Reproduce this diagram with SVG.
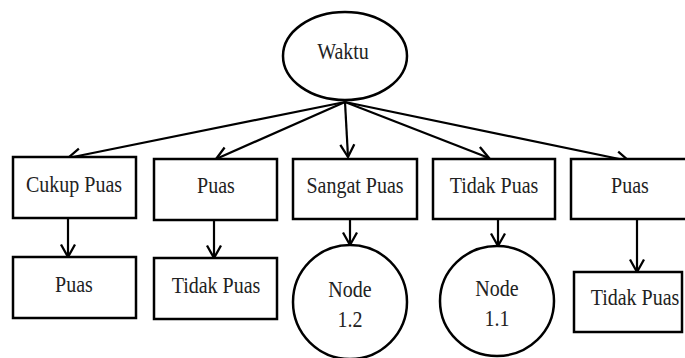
<svg xmlns="http://www.w3.org/2000/svg" width="685" height="358" viewBox="0 0 685 358">
<style>
.n{fill:#fff;stroke:#000;stroke-width:2.5}
text{font-family:'Liberation Serif','Times New Roman',serif;font-size:20px;fill:#222;text-anchor:middle}
.c line{stroke:#000;stroke-width:2.2;marker-end:url(#ah)}
</style>
<defs>
<marker id="ah" markerUnits="userSpaceOnUse" markerWidth="18" markerHeight="18" refX="14" refY="8" orient="auto" viewBox="0 0 18 16">
<path d="M1.5,1 L14,8 L1.5,15" fill="none" stroke="#000" stroke-width="2.3"/>
</marker>
</defs>
<rect width="685" height="358" fill="#fff"/>
<g id="connectors" class="c">
<line x1="345" y1="102" x2="68" y2="158"/>
<line x1="345" y1="102" x2="216" y2="159"/>
<line x1="345" y1="102" x2="348" y2="157"/>
<line x1="345" y1="102" x2="489" y2="158"/>
<line x1="345" y1="102" x2="629" y2="161"/>
<line x1="68" y1="219" x2="68" y2="257"/>
<line x1="214" y1="220" x2="214" y2="258"/>
<line x1="350" y1="219" x2="350" y2="245"/>
<line x1="498" y1="219" x2="498" y2="246"/>
<line x1="637" y1="219" x2="637" y2="272"/>
</g>
<g id="waktu"><ellipse class="n" cx="345" cy="56" rx="62" ry="44"/><text transform="translate(343,59) scale(1,1.15)">Waktu</text></g>
<g id="cukup-puas"><rect class="n" x="13" y="157" width="123" height="61"/><text transform="translate(74,192) scale(1,1.15)">Cukup Puas</text></g>
<g id="puas-1"><rect class="n" x="154" y="159" width="123" height="61"/><text transform="translate(216,193) scale(1,1.15)">Puas</text></g>
<g id="sangat-puas"><rect class="n" x="293" y="159" width="124" height="60"/><text transform="translate(355,193) scale(1,1.15)">Sangat Puas</text></g>
<g id="tidak-puas-1"><rect class="n" x="433" y="159" width="122" height="60"/><text transform="translate(494,193) scale(1,1.15)">Tidak Puas</text></g>
<g id="puas-2"><rect class="n" x="571" y="159" width="120" height="60"/><text transform="translate(630,193) scale(1,1.15)">Puas</text></g>
<g id="puas-3"><rect class="n" x="13" y="257" width="123" height="61"/><text transform="translate(74,292) scale(1,1.15)">Puas</text></g>
<g id="tidak-puas-2"><rect class="n" x="154" y="258" width="123" height="61"/><text transform="translate(216,293) scale(1,1.15)">Tidak Puas</text></g>
<g id="node-1-2"><ellipse class="n" cx="350" cy="302" rx="57" ry="57"/><text transform="translate(350,297) scale(1,1.15)">Node</text><text transform="translate(350,327) scale(1,1.15)">1.2</text></g>
<g id="node-1-1"><ellipse class="n" cx="497" cy="301" rx="57" ry="55"/><text transform="translate(497,296) scale(1,1.15)">Node</text><text transform="translate(497,326) scale(1,1.15)">1.1</text></g>
<g id="tidak-puas-3"><rect class="n" x="574" y="272" width="108" height="60"/><text transform="translate(635,305) scale(1,1.15)">Tidak Puas</text></g>
</svg>
